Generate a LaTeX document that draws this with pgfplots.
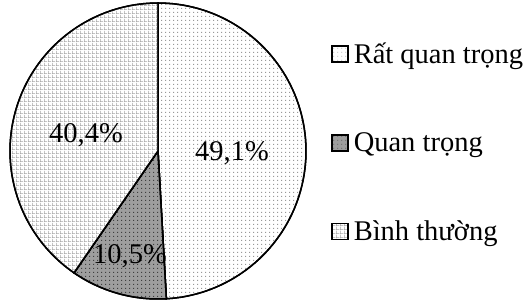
\documentclass[border=0pt]{standalone}
\usepackage{fontspec}
\setmainfont{Liberation Serif}
\usepackage{pgfplots}
\pgfplotsset{compat=1.18}
\usetikzlibrary{patterns.meta}
\pgfdeclarepattern{name=finedots, type=uncolored,
  bottom left={\pgfpoint{0pt}{0pt}}, top right={\pgfpoint{4pt}{4pt}},
  tile size={\pgfpoint{4pt}{4pt}},
  code={\pgfpathrectangle{\pgfpoint{1.5pt}{1.5pt}}{\pgfpoint{1pt}{1pt}}\pgfusepath{fill}}}
\pgfdeclarepattern{name=finegrid, type=uncolored,
  bottom left={\pgfpoint{0pt}{0pt}}, top right={\pgfpoint{4pt}{4pt}},
  tile size={\pgfpoint{4pt}{4pt}},
  code={\pgfpathrectangle{\pgfpoint{0pt}{0pt}}{\pgfpoint{4pt}{0.7pt}}
        \pgfpathrectangle{\pgfpoint{0pt}{0pt}}{\pgfpoint{0.7pt}{4pt}}\pgfusepath{fill}}}
% data (percent)
\def\va{49.1}
\def\vb{10.5}
\def\vc{40.4}
\pgfmathsetmacro{\aA}{90}
\pgfmathsetmacro{\aB}{\aA-3.6*\va}
\pgfmathsetmacro{\aC}{\aB-3.6*\vb}
\pgfmathsetmacro{\aD}{\aC-3.6*\vc}
\def\cx{158}
\def\cy{150}
\def\R{148}
\begin{document}
\begin{tikzpicture}
\begin{axis}[
  width=529pt, height=301pt, scale only axis,
  xmin=0, xmax=529, ymin=0, ymax=301,
  hide axis, clip=false,
  legend image code/.code={\draw[#1, line width=1.6pt] (0pt,-8pt) rectangle (16pt,8pt); \path (20pt,0pt);},
  legend style={at={(axis cs:328,261)}, anchor=north west, draw=none, fill=none,
    font=\fontsize{28.5}{31}\selectfont, row sep=65.5pt,
    nodes={inner sep=1pt}},
  legend cell align=left,
]
\path (axis cs:0,0) (axis cs:529,301);
\addplot[draw=black, line width=1.5pt, fill=white, postaction={pattern=finedots, pattern color=black!40},
  domain=\aB:\aA, samples=90, variable=\t]
  ({\cx+\R*cos(\t)},{\cy+\R*sin(\t)}) -- (axis cs:\cx,\cy) -- cycle;
\addlegendentry{Rất quan trọng}
\addplot[draw=black, line width=1.5pt, fill=black!38, postaction={pattern=finedots, pattern color=black!75},
  domain=\aC:\aB, samples=30, variable=\t]
  ({\cx+\R*cos(\t)},{\cy+\R*sin(\t)}) -- (axis cs:\cx,\cy) -- cycle;
\addlegendentry{Quan trọng}
\addplot[draw=black, line width=1.5pt, fill=white, postaction={pattern=finegrid, pattern color=black!35},
  domain=\aD:\aC, samples=80, variable=\t]
  ({\cx+\R*cos(\t)},{\cy+\R*sin(\t)}) -- (axis cs:\cx,\cy) -- cycle;
\addlegendentry{Bình thường}
\node[font=\fontsize{28.5}{31}\selectfont] at (axis cs:232,148) {49,1\%};
\node[font=\fontsize{28.5}{31}\selectfont] at (axis cs:86,166) {40,4\%};
\node[font=\fontsize{28.5}{31}\selectfont] at (axis cs:130,45) {10,5\%};
\end{axis}
\end{tikzpicture}
\end{document}
